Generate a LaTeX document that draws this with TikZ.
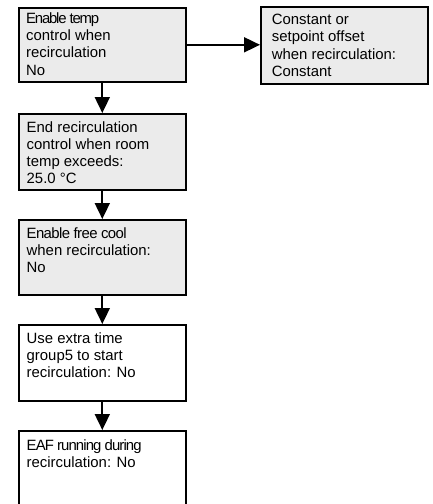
\documentclass[tikz,border=0pt]{standalone}
\usepackage{fontspec}
\setmainfont{Liberation Sans}
\usetikzlibrary{arrows.meta,calc}
\definecolor{boxgray}{RGB}{235,235,235}
\begin{document}
\begin{tikzpicture}[x=1pt,y=-1pt,
  box/.style={draw=black, line width=1.6pt, anchor=north west, inner sep=0pt, minimum width=167pt},
  gbox/.style={box, fill=boxgray},
  wbox/.style={box, fill=white},
  txt/.style={anchor=north west, inner sep=0pt, align=left, font=\fontsize{14.9}{17.2}\selectfont},
  arr/.style={line width=1.8pt, -{Triangle[length=16pt,width=15pt]}}]
\useasboundingbox (0,0) rectangle (433,504);
\clip (0,0) rectangle (433,504);
% boxes
\node[gbox, minimum height=74pt] (b1) at (18,7) {};
\node[gbox, minimum height=77pt] (b2) at (260,6) {};
\node[gbox, minimum height=76pt] (b3) at (18,113) {};
\node[gbox, minimum height=75pt] (b4) at (18,219) {};
\node[wbox, minimum height=76pt] (b5) at (18,324) {};
\node[wbox, minimum height=80pt] (b6) at (18,430) {};
% texts
\node[txt] (t1) at ($(b1.north west)+(8,5.5)$) {{\addfontfeature{LetterSpace=-8}Enable temp}\\control when\\recirculation\\No};
\node[txt] (t2) at ($(b2.north west)+(11.7,8)$) {Constant or\\setpoint offset\\when recirculation:\\Constant};
\node[txt] (t3) at ($(b3.north west)+(8.5,8)$) {End recirculation\\control when room\\temp exceeds:\\25.0 °C};
\node[txt] (t4) at ($(b4.north west)+(8.5,8)$) {{\addfontfeature{LetterSpace=-4}Enable free cool}\\when recirculation:\\No};
\node[txt] (t5) at ($(b5.north west)+(8.5,8.5)$) {Use extra time\\group5 to start\\recirculation: No};
\node[txt] (t6) at ($(b6.north west)+(8.5,9)$) {{\addfontfeature{LetterSpace=-6}EAF running during}\\recirculation: No};
% arrows
\draw[arr] (b1.east) -- (b1.east -| b2.west);
\draw[arr] (b1.south) -- (b3.north);
\draw[arr] (b3.south) -- (b4.north);
\draw[arr] (b4.south) -- (b5.north);
\draw[arr] (b5.south) -- (b6.north);
\end{tikzpicture}
\end{document}
